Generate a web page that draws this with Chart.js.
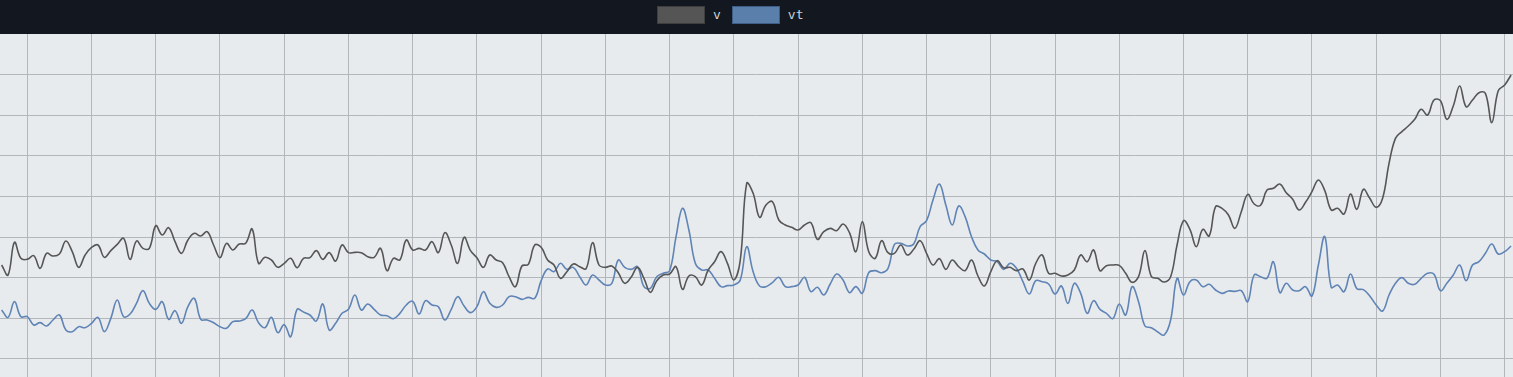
<!DOCTYPE html>
<html>
<head>
<meta charset="utf-8">
<script src="https://cdn.jsdelivr.net/npm/chart.js@4"></script>
<style>
  body { margin: 0; background: #e8ebee; overflow: hidden; }
  #cabecera { position: relative; height: 34px; background: #131820; }
  #leyenda { position: absolute; left: 657px; top: 5px; display: flex; align-items: center; height: 19px;
             font: 13px "DejaVu Sans Mono", monospace; color: #ccd0d5; }
  #leyenda .item { display: flex; align-items: center; margin-right: 11px; }
  #leyenda .caja { display: inline-block; width: 46px; height: 16px; border: 1px solid; margin-right: 8px; }
  #grafica { display: block; background: #e8ebee; }
</style>
</head>
<body>
<div id="cabecera"><div id="leyenda"></div></div>
<canvas id="grafica" width="1513" height="343"></canvas>
<script>
// Series (one value per step)
const serieV = [
  281,251,349,301,298,309,271,316,308,314,353,321,274,311,334,341,304,324,343,361,298,353,331,331,399,371,393,351,316,356,376,368,381,341,303,346,326,344,346,389,286,304,296,274,286,301,273,
  301,303,324,298,318,293,341,318,319,318,306,304,331,264,301,296,356,326,331,326,351,318,378,341,286,364,324,303,274,311,296,288,246,216,278,283,341,334,296,281,241,261,284,276,270,348,281,
  274,278,258,226,244,274,241,199,234,251,254,276,208,248,246,221,266,291,321,286,236,296,526,496,424,461,471,416,401,394,386,401,408,358,381,391,384,404,378,321,411,321,301,354,318,316,
  341,311,328,354,316,281,300,268,296,276,264,296,248,218,261,294,273,274,264,269,236,286,311,256,256,248,251,266,311,291,326,264,279,281,280,256,229,246,324,246,241,230,246,341,414,388,336,
  388,368,456,451,431,391,441,493,464,460,506,511,524,498,478,446,469,501,536,504,446,451,434,494,448,508,481,454,481,586,661,681,698,718,748,731,776,774,718,758,818,756,776,798,796,708,804,821,851
];

const serieVT = [
  146,124,171,126,126,101,108,98,116,131,86,81,96,93,106,124,81,121,176,126,134,166,204,166,148,171,118,144,106,156,181,118,116,108,96,91,111,113,120,146,108,93,124,78,102,66,148,
  140,131,113,164,86,106,136,148,191,146,164,148,131,129,120,136,161,172,134,174,161,156,116,148,186,158,138,156,201,166,154,161,186,186,178,184,181,234,269,261,286,268,274,246,221,251,236,
  221,226,296,274,268,276,216,211,246,256,264,366,451,386,286,266,266,241,216,219,221,236,336,261,218,216,228,244,216,216,221,244,201,214,191,224,254,236,198,216,196,258,264,258,271,343,
  346,338,344,396,414,476,524,461,401,458,426,366,326,314,296,291,268,286,271,231,194,234,231,224,194,218,166,226,196,136,174,148,136,120,164,131,216,171,98,93,80,71,116,241,191,231,236,
  216,223,206,196,203,202,204,171,251,246,241,291,198,226,206,204,216,188,281,366,214,221,201,254,210,207,188,161,143,191,226,243,226,223,241,256,253,204,226,251,281,234,281,291,316,344,314,321,338
];

// Grid positions (x in steps, y in series units)
const ticksX = [4, 14, 24, 34, 44, 54, 64, 74, 84, 94, 104, 114, 124, 134, 144, 154, 164, 174, 184, 194, 204, 214, 224, 234];
const ticksY = [0, 122, 244, 365, 487, 609, 730, 853];

const etiquetas = serieV.map((_, i) => i);

// Legend in the dark header, built from the datasets
const leyendaHtml = {
  id: 'leyendaHtml',
  afterUpdate(chart) {
    const cont = document.getElementById('leyenda');
    cont.innerHTML = chart.data.datasets.map(ds => `
      <span class="item">
        <span class="caja" style="background:${ds.boxColor};border-color:${ds.boxBorder}"></span>${ds.label}
      </span>
    `).join('');
  }
};

function rejilla(ticks) {
  return function(scale) {
    scale.ticks = ticks.map(v => ({ value: v }));
  };
}

document.addEventListener('DOMContentLoaded', function() {
  const ctx = document.getElementById('grafica').getContext('2d');
  new Chart(ctx, {
    type: 'line',
    data: {
      labels: etiquetas,
      datasets: [
        {
          label: 'v',
          data: serieV,
          borderColor: '#565656',
          boxColor: '#555555',
          boxBorder: '#3e3e3e',
          borderWidth: 1.6,
          pointRadius: 0,
          tension: 0.4,
          fill: false,
          clip: 0
        },
        {
          label: 'vt',
          data: serieVT,
          borderColor: '#5f84b5',
          boxColor: '#5b7fab',
          boxBorder: '#3d5c86',
          borderWidth: 1.6,
          pointRadius: 0,
          tension: 0.4,
          fill: false,
          clip: 0
        }
      ]
    },
    options: {
      responsive: false,
      animation: false,
      devicePixelRatio: 1,
      layout: { padding: 0 },
      plugins: {
        legend: { display: false },
        tooltip: { enabled: false }
      },
      scales: {
        x: {
          type: 'linear',
          min: -0.25,
          max: 235.3,
          afterBuildTicks: rejilla(ticksX),
          ticks: { display: false },
          border: { display: false },
          grid: { color: '#b3b7bb', lineWidth: 1, drawTicks: false }
        },
        y: {
          type: 'linear',
          min: -55,
          max: 974,
          afterBuildTicks: rejilla(ticksY),
          ticks: { display: false },
          border: { display: false },
          grid: { color: '#b3b7bb', lineWidth: 1, drawTicks: false }
        }
      }
    },
    plugins: [leyendaHtml]
  });
});
</script>
</body>
</html>
